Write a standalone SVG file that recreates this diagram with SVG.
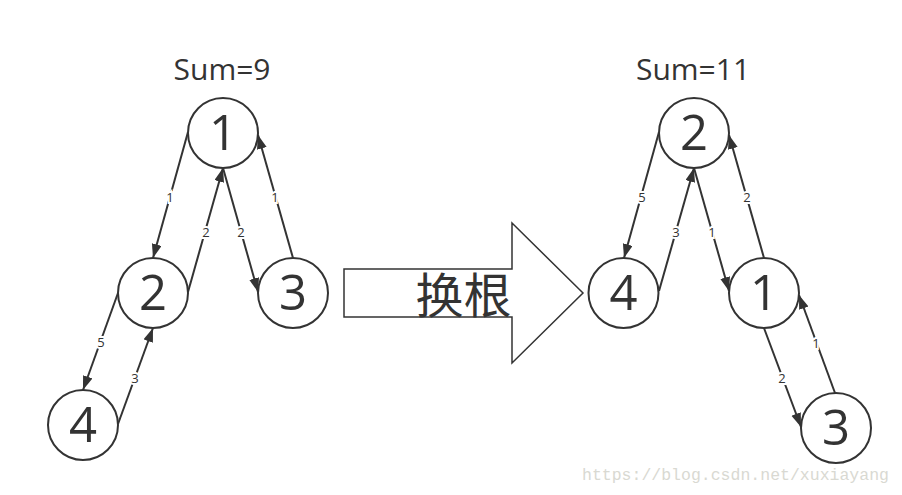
<svg xmlns="http://www.w3.org/2000/svg" width="902" height="495" viewBox="0 0 902 495">
  <style>
    .node circle { fill: #ffffff; stroke: #333333; stroke-width: 2; }
    .node text { font-family: "Open Sans", "Liberation Sans", sans-serif; font-size: 49px; fill: #333333; text-anchor: middle; }
    .edge { stroke: #333333; stroke-width: 2; fill: none; marker-end: url(#arrow); }
    .elabel { font-family: "Open Sans", "Liberation Sans", sans-serif; font-size: 13px; fill: #333333; text-anchor: middle; dominant-baseline: central; stroke: #ffffff; stroke-width: 4; paint-order: stroke; }
    .title { font-family: "Open Sans", "Liberation Sans", sans-serif; font-size: 30px; fill: #333333; text-anchor: middle; }
  </style>
  <defs>
    <marker id="arrow" markerUnits="userSpaceOnUse" markerWidth="15" markerHeight="11" refX="14" refY="5" orient="auto">
      <path d="M0,0 L14,5 L0,10 z" fill="#333333"/>
    </marker>
  </defs>
  <rect width="902" height="495" fill="#ffffff"/>

  <text class="title" x="222" y="80">Sum=9</text>
  <text class="title" x="693" y="80">Sum=11</text>

  <g id="connectors">
    <!-- left graph -->
    <line class="edge" x1="188" y1="132" x2="153" y2="258"/>
    <line class="edge" x1="188" y1="292" x2="223" y2="168"/>
    <line class="edge" x1="223" y1="168" x2="258" y2="292"/>
    <line class="edge" x1="293" y1="258" x2="258" y2="135"/>
    <line class="edge" x1="118" y1="293" x2="83" y2="390"/>
    <line class="edge" x1="118" y1="424" x2="153" y2="328"/>
    <!-- right graph -->
    <line class="edge" x1="659" y1="132" x2="624" y2="258"/>
    <line class="edge" x1="659" y1="291" x2="694" y2="168"/>
    <line class="edge" x1="694" y1="168" x2="729" y2="291"/>
    <line class="edge" x1="764" y1="258" x2="729" y2="135"/>
    <line class="edge" x1="764" y1="328" x2="801" y2="427"/>
    <line class="edge" x1="835" y1="393" x2="799" y2="295"/>

    <text class="elabel" x="170" y="197">1</text>
    <text class="elabel" x="206" y="232">2</text>
    <text class="elabel" x="241" y="232">2</text>
    <text class="elabel" x="275" y="197">1</text>
    <text class="elabel" x="101" y="342">5</text>
    <text class="elabel" x="135" y="378">3</text>

    <text class="elabel" x="642" y="197">5</text>
    <text class="elabel" x="676" y="232">3</text>
    <text class="elabel" x="712" y="232">1</text>
    <text class="elabel" x="747" y="197">2</text>
    <text class="elabel" x="782" y="378">2</text>
    <text class="elabel" x="816" y="343">1</text>
  </g>

  <g id="L1" class="node"><circle cx="223" cy="133" r="35"/><text x="223" y="150">1</text></g>
  <g id="L2" class="node"><circle cx="153" cy="293" r="35"/><text x="153" y="310">2</text></g>
  <g id="L3" class="node"><circle cx="293" cy="293" r="35"/><text x="293" y="310">3</text></g>
  <g id="L4" class="node"><circle cx="83" cy="425" r="35"/><text x="83" y="442">4</text></g>

  <g id="R2" class="node"><circle cx="694" cy="133" r="35"/><text x="694" y="150">2</text></g>
  <g id="R4" class="node"><circle cx="623.5" cy="293" r="35"/><text x="623.5" y="310">4</text></g>
  <g id="R1" class="node"><circle cx="764" cy="293" r="35"/><text x="764" y="310">1</text></g>
  <g id="R3" class="node"><circle cx="836" cy="428" r="35"/><text x="836" y="445">3</text></g>

  <g id="transform-arrow">
    <polygon points="344,269 512,269 512,223 583,293 512,363 512,317 344,317" fill="#ffffff" stroke="#333333" stroke-width="1.5"/>
    <text x="463.5" y="313" font-family="'Noto Sans CJK SC', sans-serif" font-size="48" fill="#333333" text-anchor="middle">换根</text>
  </g>

  <text x="582" y="480" font-family="'Liberation Mono', monospace" font-size="16.5" fill="#d9d9d2">https://blog.csdn.net/xuxiayang</text>
</svg>
